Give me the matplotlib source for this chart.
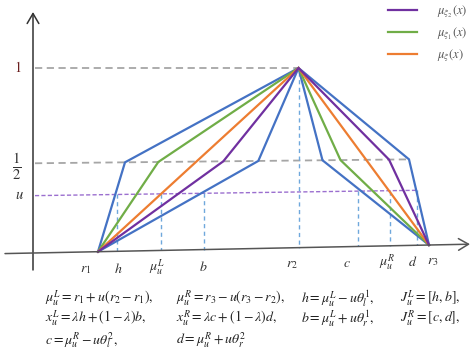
import numpy as np
import matplotlib
matplotlib.use("Agg")
import matplotlib.pyplot as plt
import matplotlib.transforms as mtransforms

plt.rcParams['mathtext.fontset'] = 'stix'
plt.rcParams['font.family'] = ['Liberation Serif', 'DejaVu Serif']

# ---------------- data ----------------
# key abscissae (diagram units)
r1, r2, r3 = 98.0, 298.5, 429.0
h, muL, b = 117.0, 160.5, 204.0
c, muR, d = 358.0, 389.5, 417.0
half = 0.485      # level drawn as 1/2
u = 0.31          # cut level u
one = 1.0

# membership curves: breakpoints (x) and levels (y)
outer_x = [r1, 125.0, r2, 409.0, r3]
outer_y = [0, half, one, half, 0]
green_x = [r1, 158.3, r2, 340.5, r3]
green_y = [0, half, one, half, 0]
orange_x = [r1, r2, r3]
orange_y = [0, one, 0]
purple_x = [r1, 223.3, r2, 389.0, r3]
purple_y = [0, half, one, half, 0]
inner_x = [r1, 258.3, r2, 322.5, r3]
inner_y = [0, half, one, half, 0]

cut_points = [h, muL, b, c, muR, d]

axis_labels = [r'$r_1$', r'$h$', r'$\mu_u^L$', r'$b$', r'$r_2$', r'$c$',
               r'$\mu_u^R$', r'$d$', r'$r_3$']
axis_label_x = [86, 118, 157, 203, 292, 347, 387, 413, 433]

legend_labels = [r'$\mu_{\xi_2}(x)$', r'$\mu_{\xi_1}(x)$', r'$\mu_{\xi}(x)$']

formula_rows = [
    [r'$\mu_u^L=r_1+u(r_2-r_1),$', r'$\mu_u^R=r_3-u(r_3-r_2),$',
     r'$h=\mu_u^L-u\theta_l^1,$', r'$J_u^L=[h,b],$'],
    [r'$x_u^L=\lambda h+(1-\lambda)b,$', r'$x_u^R=\lambda c+(1-\lambda)d,$',
     r'$b=\mu_u^L+u\theta_r^1,$', r'$J_u^R=[c,d],$'],
    [r'$c=\mu_u^R-u\theta_l^2,$', r'$d=\mu_u^R+u\theta_r^2$'],
]

# ---------------- colours ----------------
BLUE = '#4472C4'
GREEN = '#70AD47'
ORANGE = '#ED7D31'
PURPLE = '#7030A0'
GRAY_DASH = '#A6A6A6'
U_DASH = '#9B6FCF'
LIGHT_BLUE = '#6FA8DC'

W, H = 471, 360
BASE_PX, UNIT_PX = 251.7, 183.7

fig = plt.figure(figsize=(W / 100, H / 100), dpi=100)
ax = fig.add_axes([0, 0, 1, 1])
ax.axis('off')


class Tilt(mtransforms.Transform):
    """Slight tilt of the drawing's base line (as in the reference)."""
    input_dims = output_dims = 2
    is_separable = False
    has_inverse = False

    def __init__(self, k, x0):
        super().__init__()
        self.k = k
        self.x0 = x0

    def transform_non_affine(self, values):
        v = np.asarray(values, dtype=float)
        one_d = v.ndim == 1
        v = np.atleast_2d(v)
        x, y = v[:, 0], v[:, 1]
        out = np.column_stack([x, y + self.k * (x - self.x0) * (1 - y)])
        return out[0] if one_d else out


tr = Tilt(0.0202 / UNIT_PX, r1) + ax.transData

# reference dashed lines
ax.plot([35, r2], [one, one], color=GRAY_DASH, lw=1.3, dashes=(4, 2.5), transform=tr)
ax.plot([35, outer_x[3]], [half, half], color=GRAY_DASH, lw=1.3, dashes=(4, 2.5), transform=tr)
ax.plot([35, d], [u, u], color=U_DASH, lw=1.0, dashes=(3, 1.6), transform=tr)

# vertical dotted guides
for xv in cut_points:
    ax.plot([xv, xv], [u, 0], color=LIGHT_BLUE, lw=1.0, dashes=(3, 2.5), transform=tr)
ax.plot([r2, r2], [0.98, 0], color=LIGHT_BLUE, lw=1.0, dashes=(3, 2.5), transform=tr)

# curves
kw = dict(lw=1.6, transform=tr, solid_joinstyle='miter')
ax.plot(outer_x, outer_y, color=BLUE, **kw)
ax.plot(inner_x, inner_y, color=BLUE, **kw)
l_green, = ax.plot(green_x, green_y, color=GREEN, **kw)
l_orange, = ax.plot(orange_x, orange_y, color=ORANGE, **kw)
l_purple, = ax.plot(purple_x, purple_y, color=PURPLE, **kw)

# axes arrows
ax.annotate('', xy=(33, 1.3027), xytext=(33, -0.0918), xycoords=tr, textcoords=tr,
            arrowprops=dict(arrowstyle='->,head_length=0.6,head_width=0.35',
                            color='#333333', lw=1.1, mutation_scale=12,
                            shrinkA=0, shrinkB=0))
ax.annotate('', xy=(470, 0), xytext=(5, 0), xycoords=tr, textcoords=tr,
            arrowprops=dict(arrowstyle='->,head_length=0.6,head_width=0.35',
                            color='#555555', lw=1.1, mutation_scale=12,
                            shrinkA=0, shrinkB=0))

# labels on the axes
for xl, txt in zip(axis_label_x, axis_labels):
    ax.text(xl, -0.095, txt, transform=tr, ha='center', va='center',
            fontsize=10, color='#333333')
ax.text(18, one, r'$1$', transform=tr, ha='center', va='center', fontsize=10, color='#6b1f1f')
ax.text(17, 0.47, r'$\frac{1}{2}$', transform=tr, ha='center', va='center', fontsize=15,
        color='#333333')
ax.text(19, u, r'$u$', transform=tr, ha='center', va='center', fontsize=10.5, color='#333333')

# legend
ax.legend([l_purple, l_green, l_orange], legend_labels, loc='upper left',
          bbox_to_anchor=(388 / W, 1 - 3 / H), bbox_transform=fig.transFigure,
          frameon=False, fontsize=9, handlelength=2.3, handletextpad=1.6,
          labelspacing=0.45, borderpad=0, borderaxespad=0, labelcolor='#555555')

# formulas below
col_x = [45, 176, 301, 400]
row_y = [299, 319, 340]
for ry, row in zip(row_y, formula_rows):
    for cx, txt in zip(col_x, row):
        fig.text(cx / W, 1 - ry / H, txt, ha='left', va='center', fontsize=10,
                 color='#222222')

ax.set_xlim(0, W)
ax.set_ylim((BASE_PX - H) / UNIT_PX, BASE_PX / UNIT_PX)

fig.savefig('out.png', dpi=100)
